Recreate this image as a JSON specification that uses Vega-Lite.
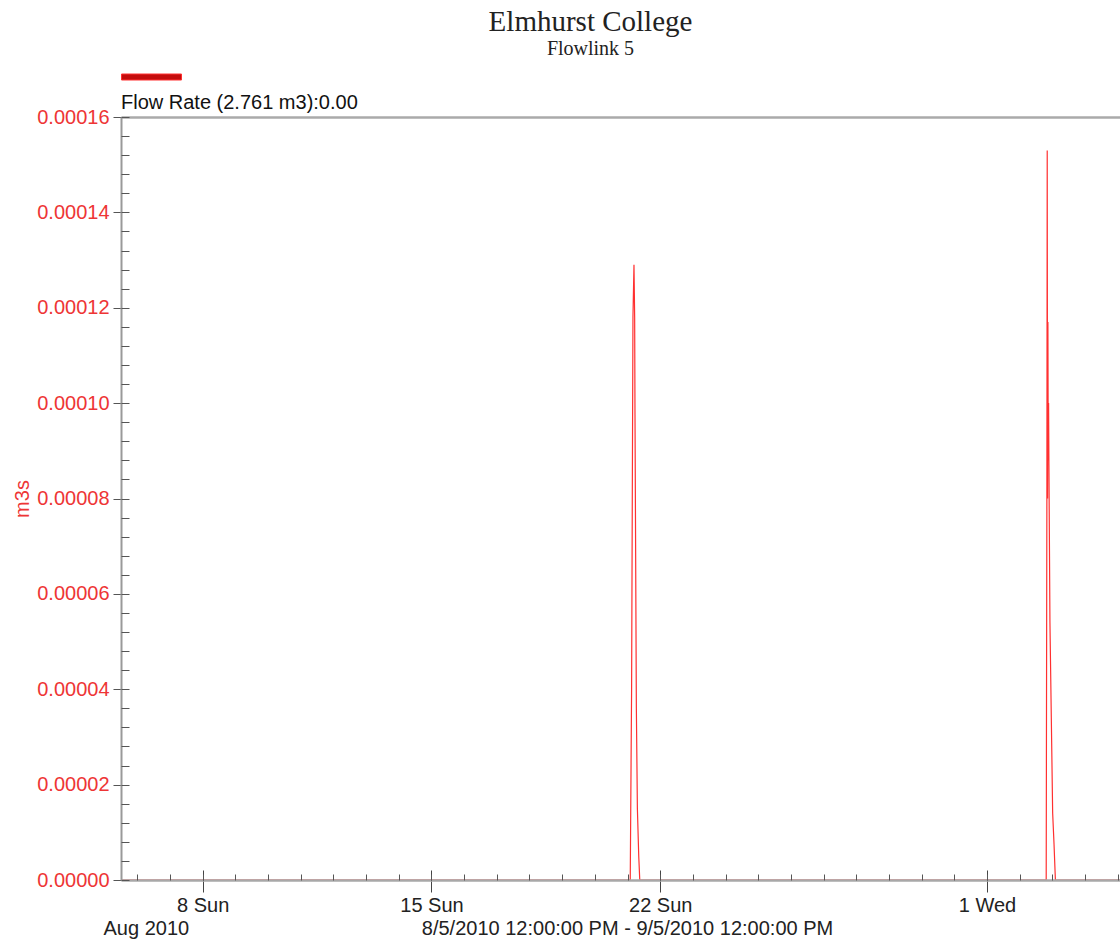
{
  "$schema": "https://vega.github.io/schema/vega-lite/v6.json",
  "width": 999,
  "height": 763,
  "autosize": {"type": "none"},
  "padding": {"left": 121, "top": 117, "right": 0, "bottom": 63},
  "background": "white",
  "title": {
    "text": "Elmhurst College",
    "subtitle": "Flowlink 5",
    "font": "Liberation Serif",
    "fontSize": 29,
    "fontWeight": "normal",
    "color": "#222222",
    "subtitleFont": "Liberation Serif",
    "subtitleFontSize": 20,
    "subtitleColor": "#222222",
    "subtitlePadding": 2,
    "anchor": "middle",
    "frame": "group",
    "dx": -30,
    "offset": -12
  },
  "data": {
    "values": [
      {"time": "2010-08-05T12:00:00Z", "flow": 0},
      {"time": "2010-08-21T02:00:00Z", "flow": 0},
      {"time": "2010-08-21T03:00:00Z", "flow": 0.00004},
      {"time": "2010-08-21T04:00:00Z", "flow": 0.000118},
      {"time": "2010-08-21T04:45:00Z", "flow": 0.000129},
      {"time": "2010-08-21T05:15:00Z", "flow": 0.000118},
      {"time": "2010-08-21T05:30:00Z", "flow": 0.0000975},
      {"time": "2010-08-21T06:30:00Z", "flow": 0.000036},
      {"time": "2010-08-21T07:15:00Z", "flow": 0.000015},
      {"time": "2010-08-21T08:15:00Z", "flow": 0.000005},
      {"time": "2010-08-21T09:00:00Z", "flow": 0},
      {"time": "2010-09-02T19:30:00Z", "flow": 0},
      {"time": "2010-09-02T20:00:00Z", "flow": 0.00008},
      {"time": "2010-09-02T20:15:00Z", "flow": 0.000153},
      {"time": "2010-09-02T20:30:00Z", "flow": 0.00008},
      {"time": "2010-09-02T20:45:00Z", "flow": 0.000117},
      {"time": "2010-09-02T21:00:00Z", "flow": 0.000088},
      {"time": "2010-09-02T21:15:00Z", "flow": 0.0001},
      {"time": "2010-09-02T21:30:00Z", "flow": 0.000087},
      {"time": "2010-09-02T22:15:00Z", "flow": 0.000054},
      {"time": "2010-09-02T23:15:00Z", "flow": 0.000034},
      {"time": "2010-09-03T00:15:00Z", "flow": 0.000014},
      {"time": "2010-09-03T01:15:00Z", "flow": 0.0000075},
      {"time": "2010-09-03T02:15:00Z", "flow": 0},
      {"time": "2010-09-05T12:00:00Z", "flow": 0}
    ]
  },
  "layer": [
    {
      "mark": {"type": "line", "color": "#ff3030", "strokeWidth": 1.2, "clip": true},
      "encoding": {
        "x": {
          "field": "time",
          "type": "temporal",
          "scale": {"type": "utc", "domain": [1281009600000, 1283650920000]},
          "axis": {
            "orient": "bottom",
            "values": [1281225600000, 1281830400000, 1282435200000, 1283299200000],
            "labelExpr": "utcFormat(datum.value, '%-d %a')",
            "labelFont": "Liberation Sans",
            "labelFontSize": 20,
            "labelColor": "#222222",
            "labelPadding": 3.5,
            "labelFlush": false,
            "labelOverlap": false,
            "tickSize": 12,
            "tickColor": "#444444",
            "tickWidth": 1,
            "domainColor": "#a8a8a8",
            "domainWidth": 2.5,
            "title": "8/5/2010 12:00:00 PM - 9/5/2010 12:00:00 PM",
            "titleFont": "Liberation Sans",
            "titleFontSize": 20,
            "titleFontWeight": "normal",
            "titleColor": "#222222",
            "titlePadding": 3,
            "titleX": 506,
            "grid": false,
            "zindex": 1
          }
        },
        "y": {
          "field": "flow",
          "type": "quantitative",
          "scale": {"domain": [0, 0.00016], "nice": false, "zero": true},
          "axis": {
            "orient": "left",
            "values": [0, 0.00002, 0.00004, 0.00006, 0.00008, 0.0001, 0.00012, 0.00014, 0.00016],
            "format": ".5f",
            "labelFont": "Liberation Sans",
            "labelFontSize": 20,
            "labelColor": "#ee3535",
            "labelPadding": 4,
            "tickSize": 8,
            "tickColor": "#555555",
            "domainColor": "#999999",
            "domainWidth": 2,
            "title": "m3s",
            "titleFont": "Liberation Sans",
            "titleColor": "#ee3535",
            "titleFontSize": 20,
            "titleFontWeight": "normal",
            "titlePadding": 4,
            "grid": false,
            "zindex": 1
          }
        },
        "color": {
          "datum": "Flow Rate",
          "scale": {"range": ["#ff3030"]},
          "legend": {
            "orient": "none",
            "legendX": 0,
            "legendY": -70.5,
            "padding": 0,
            "title": "Flow Rate (2.761 m3):0.00",
            "titleOrient": "bottom",
            "titleAnchor": "start",
            "titleBaseline": "top",
            "titleFont": "Liberation Sans",
            "titleFontSize": 20,
            "titleFontWeight": "normal",
            "titleColor": "#111111",
            "titlePadding": 10,
            "titleLimit": 600,
            "labelExpr": "''",
            "symbolType": "M-1,-0.1H1V0.1H-1Z",
            "symbolSize": 3600,
            "encode": {
              "symbols": {
                "update": {
                  "fill": {"value": "#c40c0c"},
                  "stroke": {"value": "#700000"},
                  "strokeWidth": {"value": 1},
                  "opacity": {"value": 1}
                }
              }
            }
          }
        }
      }
    },
    {
      "mark": {"type": "line", "opacity": 0},
      "encoding": {
        "x": {
          "field": "time",
          "type": "temporal",
          "axis": {
            "orient": "bottom",
            "values": [1281225600000, 1281830400000, 1282435200000, 1283299200000],
            "labels": false,
            "domain": false,
            "tickSize": -10,
            "tickColor": "#444444",
            "tickWidth": 1,
            "title": null,
            "grid": false,
            "zindex": 1
          }
        },
        "y": {
          "field": "flow",
          "type": "quantitative",
          "axis": {
            "orient": "left",
            "values": [0, 0.000004, 0.000008, 0.000012, 0.000016, 0.00002, 0.000024, 0.000028, 0.000032, 0.000036, 0.00004, 0.000044, 0.000048, 0.000052, 0.000056, 0.00006, 0.000064, 0.000068, 0.000072, 0.000076, 0.00008, 0.000084, 0.000088, 0.000092, 0.000096, 0.0001, 0.000104, 0.000108, 0.000112, 0.000116, 0.00012, 0.000124, 0.000128, 0.000132, 0.000136, 0.00014, 0.000144, 0.000148, 0.000152, 0.000156, 0.00016],
            "labels": false,
            "domain": false,
            "tickSize": -8,
            "tickColor": "#555555",
            "tickWidth": 1,
            "title": null,
            "grid": false,
            "zindex": 1
          }
        }
      }
    },
    {
      "mark": {"type": "line", "opacity": 0},
      "encoding": {
        "x": {
          "field": "time",
          "type": "temporal",
          "axis": {
            "orient": "bottom",
            "values": [1281052800000, 1281139200000, 1281225600000, 1281312000000, 1281398400000, 1281484800000, 1281571200000, 1281657600000, 1281744000000, 1281830400000, 1281916800000, 1282003200000, 1282089600000, 1282176000000, 1282262400000, 1282348800000, 1282435200000, 1282521600000, 1282608000000, 1282694400000, 1282780800000, 1282867200000, 1282953600000, 1283040000000, 1283126400000, 1283212800000, 1283299200000, 1283385600000, 1283472000000, 1283558400000, 1283644800000],
            "labels": false,
            "domain": false,
            "tickSize": -6,
            "tickColor": "#555555",
            "tickWidth": 1,
            "title": null,
            "grid": false,
            "zindex": 1
          }
        },
        "y": {"field": "flow", "type": "quantitative", "axis": null}
      }
    },
    {
      "mark": {"type": "line", "opacity": 0},
      "encoding": {
        "x": {
          "field": "time",
          "type": "temporal",
          "axis": {
            "orient": "bottom",
            "values": [1281009600000],
            "labelExpr": "'Aug 2010'",
            "labelFont": "Liberation Sans",
            "labelFontSize": 20,
            "labelColor": "#222222",
            "labelAlign": "left",
            "labelOffset": -18,
            "labelPadding": 38.5,
            "labelFlush": false,
            "labelOverlap": false,
            "labelBound": false,
            "ticks": false,
            "domain": false,
            "title": null,
            "grid": false
          }
        },
        "y": {"field": "flow", "type": "quantitative", "axis": null}
      }
    },
    {
      "mark": {"type": "line", "opacity": 0},
      "encoding": {
        "x": {
          "field": "time",
          "type": "temporal",
          "axis": {
            "orient": "top",
            "labels": false,
            "ticks": false,
            "domain": true,
            "domainColor": "#aaaaaa",
            "domainWidth": 2.5,
            "title": null,
            "grid": false,
            "zindex": 1
          }
        },
        "y": {"field": "flow", "type": "quantitative", "axis": null}
      }
    }
  ],
  "resolve": {"axis": {"x": "independent", "y": "independent"}},
  "config": {
    "view": {"stroke": null},
    "axis": {"grid": false}
  }
}
